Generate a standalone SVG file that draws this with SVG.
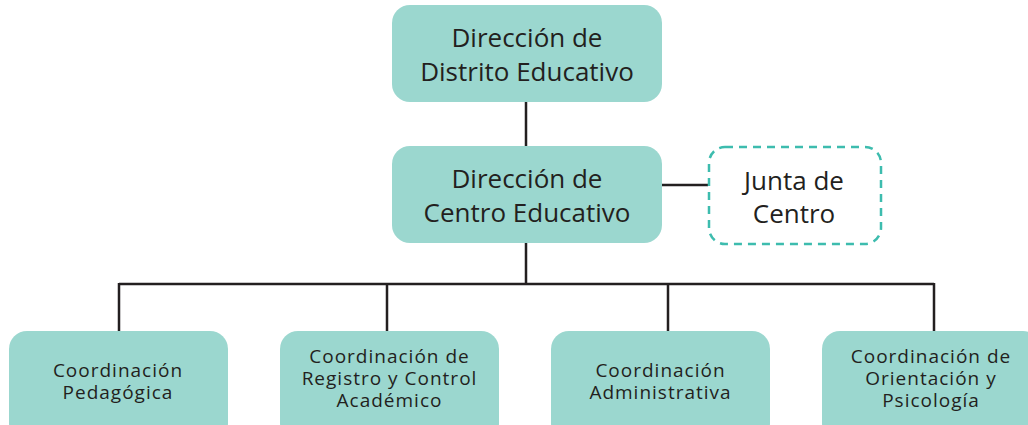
<svg xmlns="http://www.w3.org/2000/svg" width="1028" height="425" viewBox="0 0 1028 425">
<style>
.box{fill:#9bd7cf}
.dash{fill:#fff;stroke:#3dbcae;stroke-width:2.5;stroke-dasharray:8 6}
.t{font-family:"Open Sans","Noto Sans",sans-serif;fill:#231f20;text-anchor:middle}
.big{font-size:26px}
.sm{font-size:19px;letter-spacing:1px}
.ln{stroke:#231f20;stroke-width:2.5;fill:none}
</style>
<rect width="1028" height="425" fill="#fff"/>
<g id="connectors">
<path class="ln" d="M526 102V146M526 243V284M119 284H934M119 283V331M387 283V331M668 283V331M934 283V331M662 185H708"/>
</g>
<g id="n-distrito">
<rect class="box" x="392" y="5" width="270" height="97" rx="18"/>
<text class="t big" x="527" y="47">Dirección de</text>
<text class="t big" x="527" y="81">Distrito Educativo</text>
</g>
<g id="n-centro">
<rect class="box" x="392" y="146" width="270" height="97" rx="18"/>
<text class="t big" x="527" y="188">Dirección de</text>
<text class="t big" x="527" y="222">Centro Educativo</text>
</g>
<g id="n-junta">
<rect class="dash" x="709" y="147" width="172" height="97" rx="16"/>
<text class="t big" x="794" y="190">Junta de</text>
<text class="t big" x="794" y="223">Centro</text>
</g>
<g id="n-pedagogica">
<rect class="box" x="9" y="331" width="219" height="110" rx="18"/>
<text class="t sm" x="118" y="377">Coordinación</text>
<text class="t sm" x="118" y="399">Pedagógica</text>
</g>
<g id="n-registro">
<rect class="box" x="280" y="331" width="219" height="110" rx="18"/>
<text class="t sm" x="389.5" y="363">Coordinación de</text>
<text class="t sm" x="389.5" y="385">Registro y Control</text>
<text class="t sm" x="389.5" y="407">Académico</text>
</g>
<g id="n-administrativa">
<rect class="box" x="551" y="331" width="219" height="110" rx="18"/>
<text class="t sm" x="660.5" y="377">Coordinación</text>
<text class="t sm" x="660.5" y="399">Administrativa</text>
</g>
<g id="n-orientacion">
<rect class="box" x="822" y="331" width="219" height="110" rx="18"/>
<text class="t sm" x="931" y="363">Coordinación de</text>
<text class="t sm" x="931" y="385">Orientación y</text>
<text class="t sm" x="931" y="407">Psicología</text>
</g>
</svg>
